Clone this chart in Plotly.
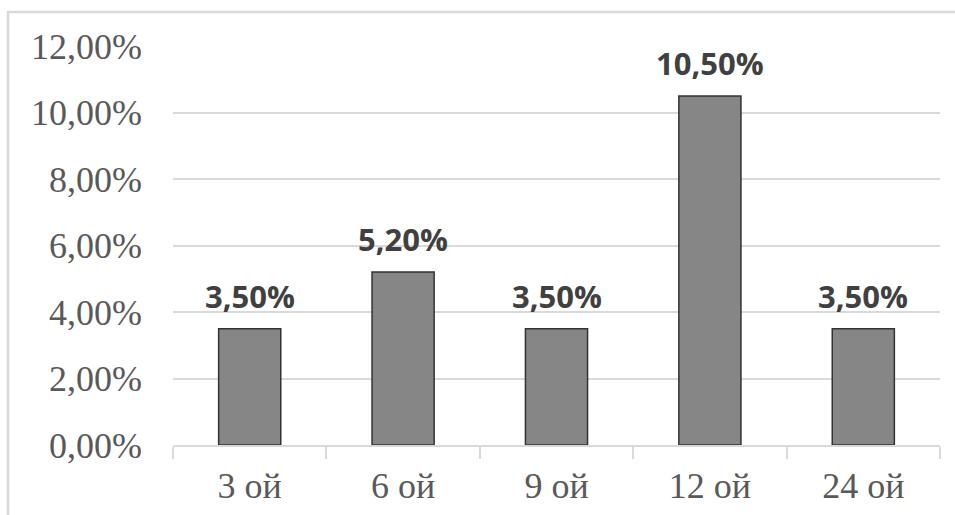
import plotly.graph_objects as go

# Categories (periods) and rate values, in percent
categories = ["3 ой", "6 ой", "9 ой", "12 ой", "24 ой"]
rates = [3.5, 5.2, 3.5, 10.5, 3.5]
y_ticks = [0, 2, 4, 6, 8, 10, 12]
y_tick_labels = ["0,00%", "2,00%", "4,00%", "6,00%", "8,00%", "10,00%", "12,00%"]


def fmt_pct(v):
    return f"{v:.2f}%".replace(".", ",")


bar_labels = [fmt_pct(v) for v in rates]

fig = go.Figure()
fig.add_trace(go.Bar(
    x=categories,
    y=rates,
    width=0.405,
    marker=dict(color="#868686", line=dict(color="#333333", width=1.5)),
    hoverinfo="skip",
))

# Value labels above each bar
for cat, val, lab in zip(categories, rates, bar_labels):
    fig.add_annotation(
        x=cat, y=val, text=lab,
        xref="x", yref="y",
        showarrow=False,
        yanchor="bottom",
        yshift=10,
        font=dict(family="Open Sans", size=31, color="#404040", weight="bold"),
    )

fig.update_layout(
    width=955,
    height=515,
    margin=dict(l=173, r=15, t=46, b=70),
    paper_bgcolor="white",
    plot_bgcolor="white",
    showlegend=False,
)

fig.update_xaxes(
    type="category",
    automargin=False,
    showgrid=False,
    showline=True,
    linecolor="#d9d9d9",
    linewidth=1.5,
    ticks="outside",
    tickson="boundaries",
    ticklen=12,
    tickcolor="#d9d9d9",
    tickwidth=1.5,
    tickfont=dict(family="Liberation Serif", size=36, color="#595959"),
    ticklabelstandoff=8,
)

fig.update_yaxes(
    range=[0, 12],
    automargin=False,
    tickvals=y_ticks,
    ticktext=y_tick_labels,
    showgrid=True,
    gridcolor="#d9d9d9",
    gridwidth=1.5,
    zeroline=False,
    showline=False,
    ticks="",
    tickfont=dict(family="Liberation Serif", size=36, color="#595959"),
    ticklabelstandoff=30,
)

# Light frame around the chart area
fig.add_shape(
    type="rect",
    xref="paper", yref="paper",
    x0=(8 - 173) / 767, x1=(960 - 173) / 767,
    y0=(445 - 520) / 399, y1=(445 - 12) / 399,
    line=dict(color="#d9d9d9", width=2.5),
    fillcolor="rgba(0,0,0,0)",
    layer="below",
)

fig.write_html("out.html")
